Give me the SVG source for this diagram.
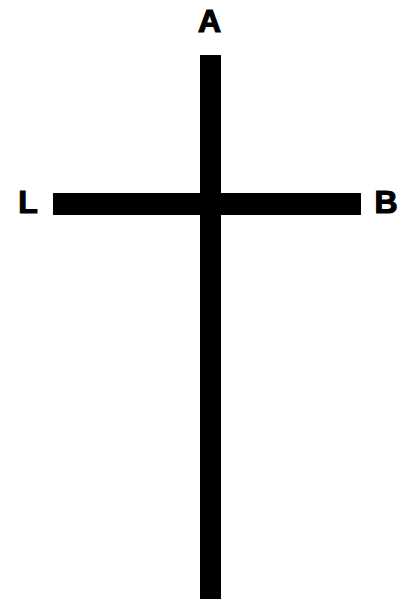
<svg xmlns="http://www.w3.org/2000/svg" width="405" height="604" viewBox="0 0 405 604">
<style>
.bar{fill:#000}
.lbl{font-family:"Liberation Sans",Arial,sans-serif;font-weight:bold;font-size:32px;fill:#000;stroke:#000;stroke-width:1.2px;text-anchor:middle}
</style>
<rect x="0" y="0" width="405" height="604" fill="#fff"/>
<g id="cross">
<rect class="bar" x="200" y="55" width="21" height="544"/>
<rect class="bar" x="53" y="193" width="308" height="22"/>
</g>
<g id="labels">
<text class="lbl" x="209.5" y="32">A</text>
<text class="lbl" x="28" y="213">L</text>
<text class="lbl" x="386" y="213">B</text>
</g>
</svg>
